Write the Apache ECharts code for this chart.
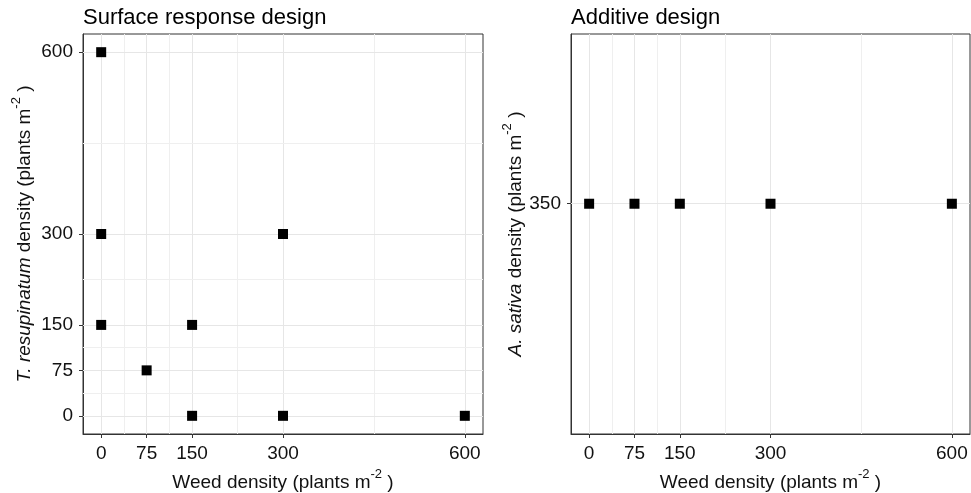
<!DOCTYPE html>
<html>
<head>
<meta charset="utf-8">
<script src="https://cdn.jsdelivr.net/npm/echarts@6/dist/echarts.min.js"></script>
<style>
  html, body { margin: 0; padding: 0; background: #fff; }
  #chart { width: 971px; height: 493px; }
</style>
</head>
<body>
<div id="chart"></div>
<script>
// Tick positions and minor grid positions
const weedTicks = [0, 75, 150, 300, 600];
const weedMinor = [37.5, 112.5, 225, 450];
const surfaceCropTicks = [0, 75, 150, 300, 600];
const surfaceCropMinor = [37.5, 112.5, 225, 450];
const additiveCropTicks = [350];

// Surface response design: weed density vs T. resupinatum density
const surfaceWeed = [0, 0, 0, 75, 150, 150, 300, 300, 600];
const surfaceCrop = [600, 300, 150, 75, 150, 0, 300, 0, 0];

// Additive design: weed density vs A. sativa density
const additiveWeed = [0, 75, 150, 300, 600];
const additiveCrop = [350, 350, 350, 350, 350];

const FONT = '"Liberation Sans", Arial, sans-serif';
const INK = '#111';
const LINE = '#333';

const rich = {
  n: { fontFamily: FONT, fontSize: 19, lineHeight: 30, color: INK },
  i: { fontFamily: FONT, fontSize: 19, lineHeight: 30, color: INK, fontStyle: 'italic' },
  s: { fontFamily: FONT, fontSize: 13, lineHeight: 14, color: INK, verticalAlign: 'top' }
};

function gridLines(axisKey, major, minor) {
  return major.map(v => ({ [axisKey]: v, lineStyle: { color: '#e6e6e6', width: 1, type: 'solid' } }))
    .concat(minor.map(v => ({ [axisKey]: v, lineStyle: { color: '#efefef', width: 1, type: 'solid' } })));
}

function valueAxis(gridIndex, min, max, ticks, labelMargin, opts) {
  return Object.assign({
    type: 'value',
    gridIndex: gridIndex,
    min: min,
    max: max,
    splitLine: { show: false },
    axisLine: { show: true, onZero: false, lineStyle: { color: LINE, width: 1 } },
    axisTick: { show: true, length: 4, customValues: ticks, lineStyle: { color: LINE } },
    axisLabel: { customValues: ticks, color: INK, fontSize: 19, fontFamily: FONT, margin: labelMargin },
    nameLocation: 'middle',
    nameTextStyle: { rich: rich }
  }, opts);
}

const xName = '{n|Weed density (plants m}{s|-2}{n| )}';

const option = {
  animation: false,
  textStyle: { fontFamily: FONT },
  title: [
    { text: 'Surface response design', left: 83, top: 7, padding: 0,
      textStyle: { fontSize: 22, fontWeight: 'normal', color: '#000', fontFamily: FONT } },
    { text: 'Additive design', left: 571, top: 7, padding: 0,
      textStyle: { fontSize: 22, fontWeight: 'normal', color: '#000', fontFamily: FONT } }
  ],
  grid: [
    { left: 83, top: 34, width: 400, height: 400, show: true, borderColor: LINE, borderWidth: 1,
      backgroundColor: 'transparent', containLabel: false, outerBoundsMode: 'none' },
    { left: 571, top: 34, width: 399, height: 400, show: true, borderColor: LINE, borderWidth: 1,
      backgroundColor: 'transparent', containLabel: false, outerBoundsMode: 'none' }
  ],
  xAxis: [
    valueAxis(0, -30, 630, weedTicks, 10, { name: xName, nameGap: 31 }),
    valueAxis(1, -30, 630, weedTicks, 10, { name: xName, nameGap: 31 })
  ],
  yAxis: [
    valueAxis(0, -30, 630, surfaceCropTicks, 10, {
      name: '{i|T. resupinatum}{n| density (plants m}{s|-2}{n| )}', nameGap: 43
    }),
    valueAxis(1, 0, 608, additiveCropTicks, 10, {
      name: '{i|A. sativa}{n| density (plants m}{s|-2}{n| )}', nameGap: 40
    })
  ],
  series: [
    {
      type: 'scatter',
      xAxisIndex: 0, yAxisIndex: 0,
      symbol: 'rect', symbolSize: 10,
      itemStyle: { color: '#000', opacity: 1 },
      data: surfaceWeed.map((w, k) => [w, surfaceCrop[k]]),
      markLine: {
        silent: true, z: 1, symbol: ['none', 'none'], label: { show: false },
        data: gridLines('xAxis', weedTicks, weedMinor).concat(gridLines('yAxis', surfaceCropTicks, surfaceCropMinor))
      }
    },
    {
      type: 'scatter',
      xAxisIndex: 1, yAxisIndex: 1,
      symbol: 'rect', symbolSize: 10,
      itemStyle: { color: '#000', opacity: 1 },
      data: additiveWeed.map((w, k) => [w, additiveCrop[k]]),
      markLine: {
        silent: true, z: 1, symbol: ['none', 'none'], label: { show: false },
        data: gridLines('xAxis', weedTicks, weedMinor).concat(gridLines('yAxis', additiveCropTicks, []))
      }
    }
  ]
};

const chart = echarts.init(document.getElementById('chart'), null, { renderer: 'canvas' });
chart.setOption(option);
</script>
</body>
</html>
